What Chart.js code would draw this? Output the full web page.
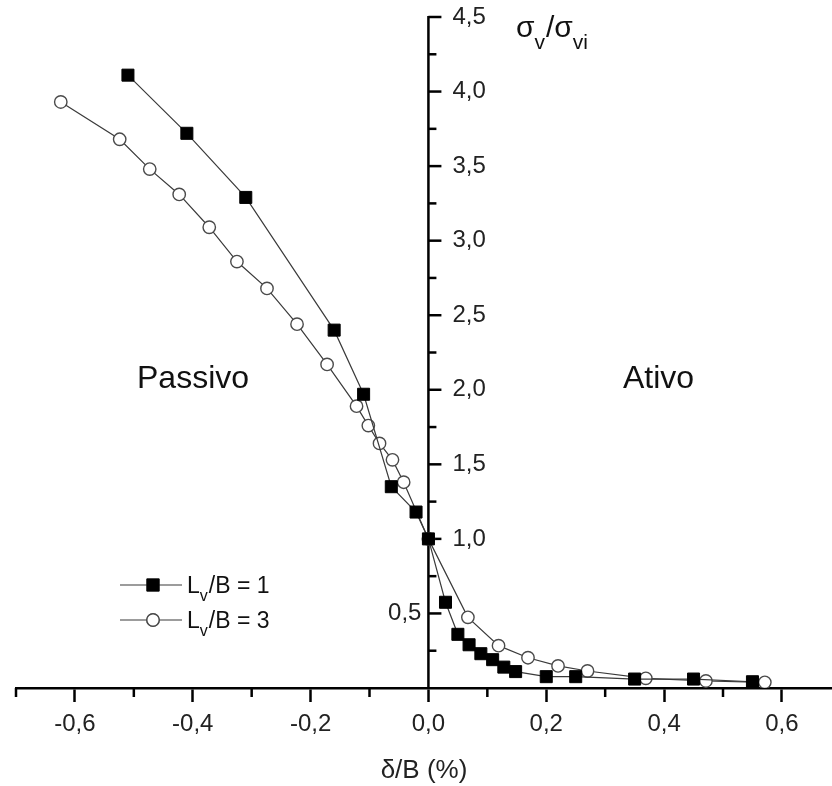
<!DOCTYPE html>
<html>
<head>
<meta charset="utf-8">
<script src="https://cdn.jsdelivr.net/npm/chart.js@4.4.0/dist/chart.umd.min.js"></script>
<style>
  html, body { margin: 0; padding: 0; background: #fff; }
  canvas { display: block; }
</style>
</head>
<body>
<canvas id="chart" width="832" height="786"></canvas>
<script>
const FONT = '"Liberation Sans", Arial, sans-serif';

// Lv/B = 1  (filled squares)
const deltaB1 = [-0.51, -0.41, -0.31, -0.16, -0.11, -0.063, -0.021, 0, 0.029, 0.05, 0.069, 0.089, 0.109, 0.128, 0.148, 0.20, 0.25, 0.35, 0.45, 0.55];
const sigma1  = [4.11, 3.72, 3.29, 2.40, 1.97, 1.35, 1.18, 1.00, 0.575, 0.36, 0.29, 0.23, 0.19, 0.14, 0.11, 0.076, 0.076, 0.06, 0.06, 0.042];

// Lv/B = 3  (open circles)
const deltaB3 = [-0.624, -0.524, -0.473, -0.423, -0.372, -0.325, -0.274, -0.223, -0.172, -0.122, -0.102, -0.083, -0.061, -0.042, 0, 0.067, 0.119, 0.169, 0.22, 0.27, 0.369, 0.471, 0.571];
const sigma3  = [3.93, 3.68, 3.48, 3.31, 3.09, 2.86, 2.68, 2.44, 2.17, 1.89, 1.76, 1.64, 1.53, 1.38, 1.00, 0.474, 0.284, 0.203, 0.148, 0.114, 0.065, 0.047, 0.038];

// axes
const xTickValues = [-0.7, -0.6, -0.5, -0.4, -0.3, -0.2, -0.1, 0, 0.1, 0.2, 0.3, 0.4, 0.5, 0.6];
const yTickValues = [0.25, 0.5, 0.75, 1.0, 1.25, 1.5, 1.75, 2.0, 2.25, 2.5, 2.75, 3.0, 3.25, 3.5, 3.75, 4.0, 4.25, 4.5];
const yLabelValues = [0.5, 1.0, 1.5, 2.0, 2.5, 3.0, 3.5, 4.0, 4.5];

const seriesNames = [['L', 'v', '/B = 1'], ['L', 'v', '/B = 3']];
const regionLabels = ['Passivo', 'Ativo'];

const fmt = v => v.toFixed(1).replace('.', ',');
const isMajorX = v => Math.round(v * 10) % 2 === 0;

const toPoints = (xs, ys) => xs.map((x, i) => ({ x: x, y: ys[i] }));

const datasets = [
  {
    label: 'Lv/B = 1',
    data: toPoints(deltaB1, sigma1),
    borderColor: '#3a3a3a',
    borderWidth: 1.2,
    pointStyle: 'rect',
    pointRadius: 8.5,
    pointBackgroundColor: '#000',
    pointBorderColor: '#000',
    pointBorderWidth: 1,
    tension: 0
  },
  {
    label: 'Lv/B = 3',
    data: toPoints(deltaB3, sigma3),
    borderColor: '#3a3a3a',
    borderWidth: 1.2,
    pointStyle: 'circle',
    pointRadius: 6.2,
    pointBackgroundColor: '#fff',
    pointBorderColor: '#4a4a4a',
    pointBorderWidth: 1.4,
    tension: 0
  }
];

// draws text with a lowered subscript: parts = [main, sub, main, sub, ...]
function drawSubText(ctx, parts, x, y, size, subSize, subDrop) {
  let cx = x;
  parts.forEach((p, i) => {
    const sub = i % 2 === 1;
    ctx.font = (sub ? subSize : size) + 'px ' + FONT;
    ctx.fillText(p, cx, sub ? y + subDrop : y);
    cx += ctx.measureText(p).width + (sub ? 1 : 0);
  });
}

const decor = {
  id: 'decor',
  beforeDatasetsDraw(chart) {
    const ctx = chart.ctx;
    const xs = chart.scales.x, ys = chart.scales.y;
    const ax = xs.getPixelForValue(0);
    ctx.save();
    ctx.strokeStyle = '#000';
    ctx.lineWidth = 2.5;
    // y axis on x = 0
    ctx.beginPath();
    ctx.moveTo(ax, ys.getPixelForValue(0));
    ctx.lineTo(ax, ys.getPixelForValue(4.5) - 1);
    ctx.stroke();
    yTickValues.forEach(v => {
      const py = ys.getPixelForValue(v);
      const len = yLabelValues.includes(v) ? 13 : 8;
      ctx.beginPath();
      ctx.moveTo(ax, py);
      ctx.lineTo(ax + len, py);
      ctx.stroke();
    });
    // minor ticks on x axis
    const by = chart.chartArea.bottom;
    xTickValues.filter(v => !isMajorX(v)).forEach(v => {
      const px = xs.getPixelForValue(v);
      ctx.beginPath();
      ctx.moveTo(px, by);
      ctx.lineTo(px, by + 9);
      ctx.stroke();
    });
    // y tick labels
    ctx.fillStyle = '#222';
    ctx.font = '24px ' + FONT;
    ctx.textBaseline = 'middle';
    yLabelValues.forEach(v => {
      const py = ys.getPixelForValue(v);
      if (v < 1) {
        ctx.textAlign = 'right';
        ctx.fillText(fmt(v), ax - 7, py);
      } else {
        ctx.textAlign = 'left';
        ctx.fillText(fmt(v), ax + 24, py);
      }
    });
    // y title
    ctx.textAlign = 'left';
    ctx.textBaseline = 'alphabetic';
    ctx.fillStyle = '#111';
    drawSubText(ctx, ['σ', 'v', '/σ', 'vi'], 516, 37, 30, 21, 12);
    // region labels
    ctx.font = '32px ' + FONT;
    ctx.fillText(regionLabels[0], 137, 388);
    ctx.fillText(regionLabels[1], 623, 388);
    // legend
    const rows = [585, 620];
    rows.forEach((ry, i) => {
      const ds = datasets[i];
      ctx.strokeStyle = '#3a3a3a';
      ctx.lineWidth = 1.2;
      ctx.beginPath();
      ctx.moveTo(120, ry);
      ctx.lineTo(182, ry);
      ctx.stroke();
      Chart.helpers.drawPoint(ctx, {
        pointStyle: ds.pointStyle,
        radius: ds.pointRadius,
        borderWidth: ds.pointBorderWidth
      }, 153, ry);
      ctx.fillStyle = ds.pointBackgroundColor;
      ctx.strokeStyle = ds.pointBorderColor;
      ctx.lineWidth = ds.pointBorderWidth;
      ctx.fill();
      ctx.stroke();
      ctx.fillStyle = '#111';
      drawSubText(ctx, seriesNames[i], 187, ry + 8, 23, 16, 8);
    });
    ctx.restore();
  }
};

new Chart(document.getElementById('chart'), {
  type: 'line',
  data: { datasets: datasets },
  options: {
    responsive: false,
    animation: false,
    layout: { autoPadding: false, padding: { left: 16, right: 0, top: 17, bottom: 0 } },
    plugins: { legend: { display: false }, tooltip: { enabled: false } },
    scales: {
      x: {
        type: 'linear',
        min: -0.7,
        max: 0.685,
        afterBuildTicks: s => { s.ticks = xTickValues.map(v => ({ value: v })); },
        border: { display: true, color: '#000', width: 2.5 },
        grid: {
          drawOnChartArea: false,
          drawTicks: true,
          tickLength: 14,
          tickWidth: 2.5,
          tickColor: c => (c.tick && isMajorX(c.tick.value)) ? '#000' : 'rgba(0,0,0,0)'
        },
        ticks: {
          autoSkip: false,
          maxRotation: 0,
          padding: 8,
          color: '#222',
          font: { family: FONT, size: 24 },
          callback: v => isMajorX(v) ? fmt(v) : ''
        },
        title: {
          display: true,
          text: 'δ/B (%)',
          color: '#222',
          font: { family: FONT, size: 26 },
          padding: { top: 8, bottom: 0 }
        }
      },
      y: {
        type: 'linear',
        min: 0,
        max: 4.5,
        display: false
      }
    }
  },
  plugins: [decor]
});
</script>
</body>
</html>
